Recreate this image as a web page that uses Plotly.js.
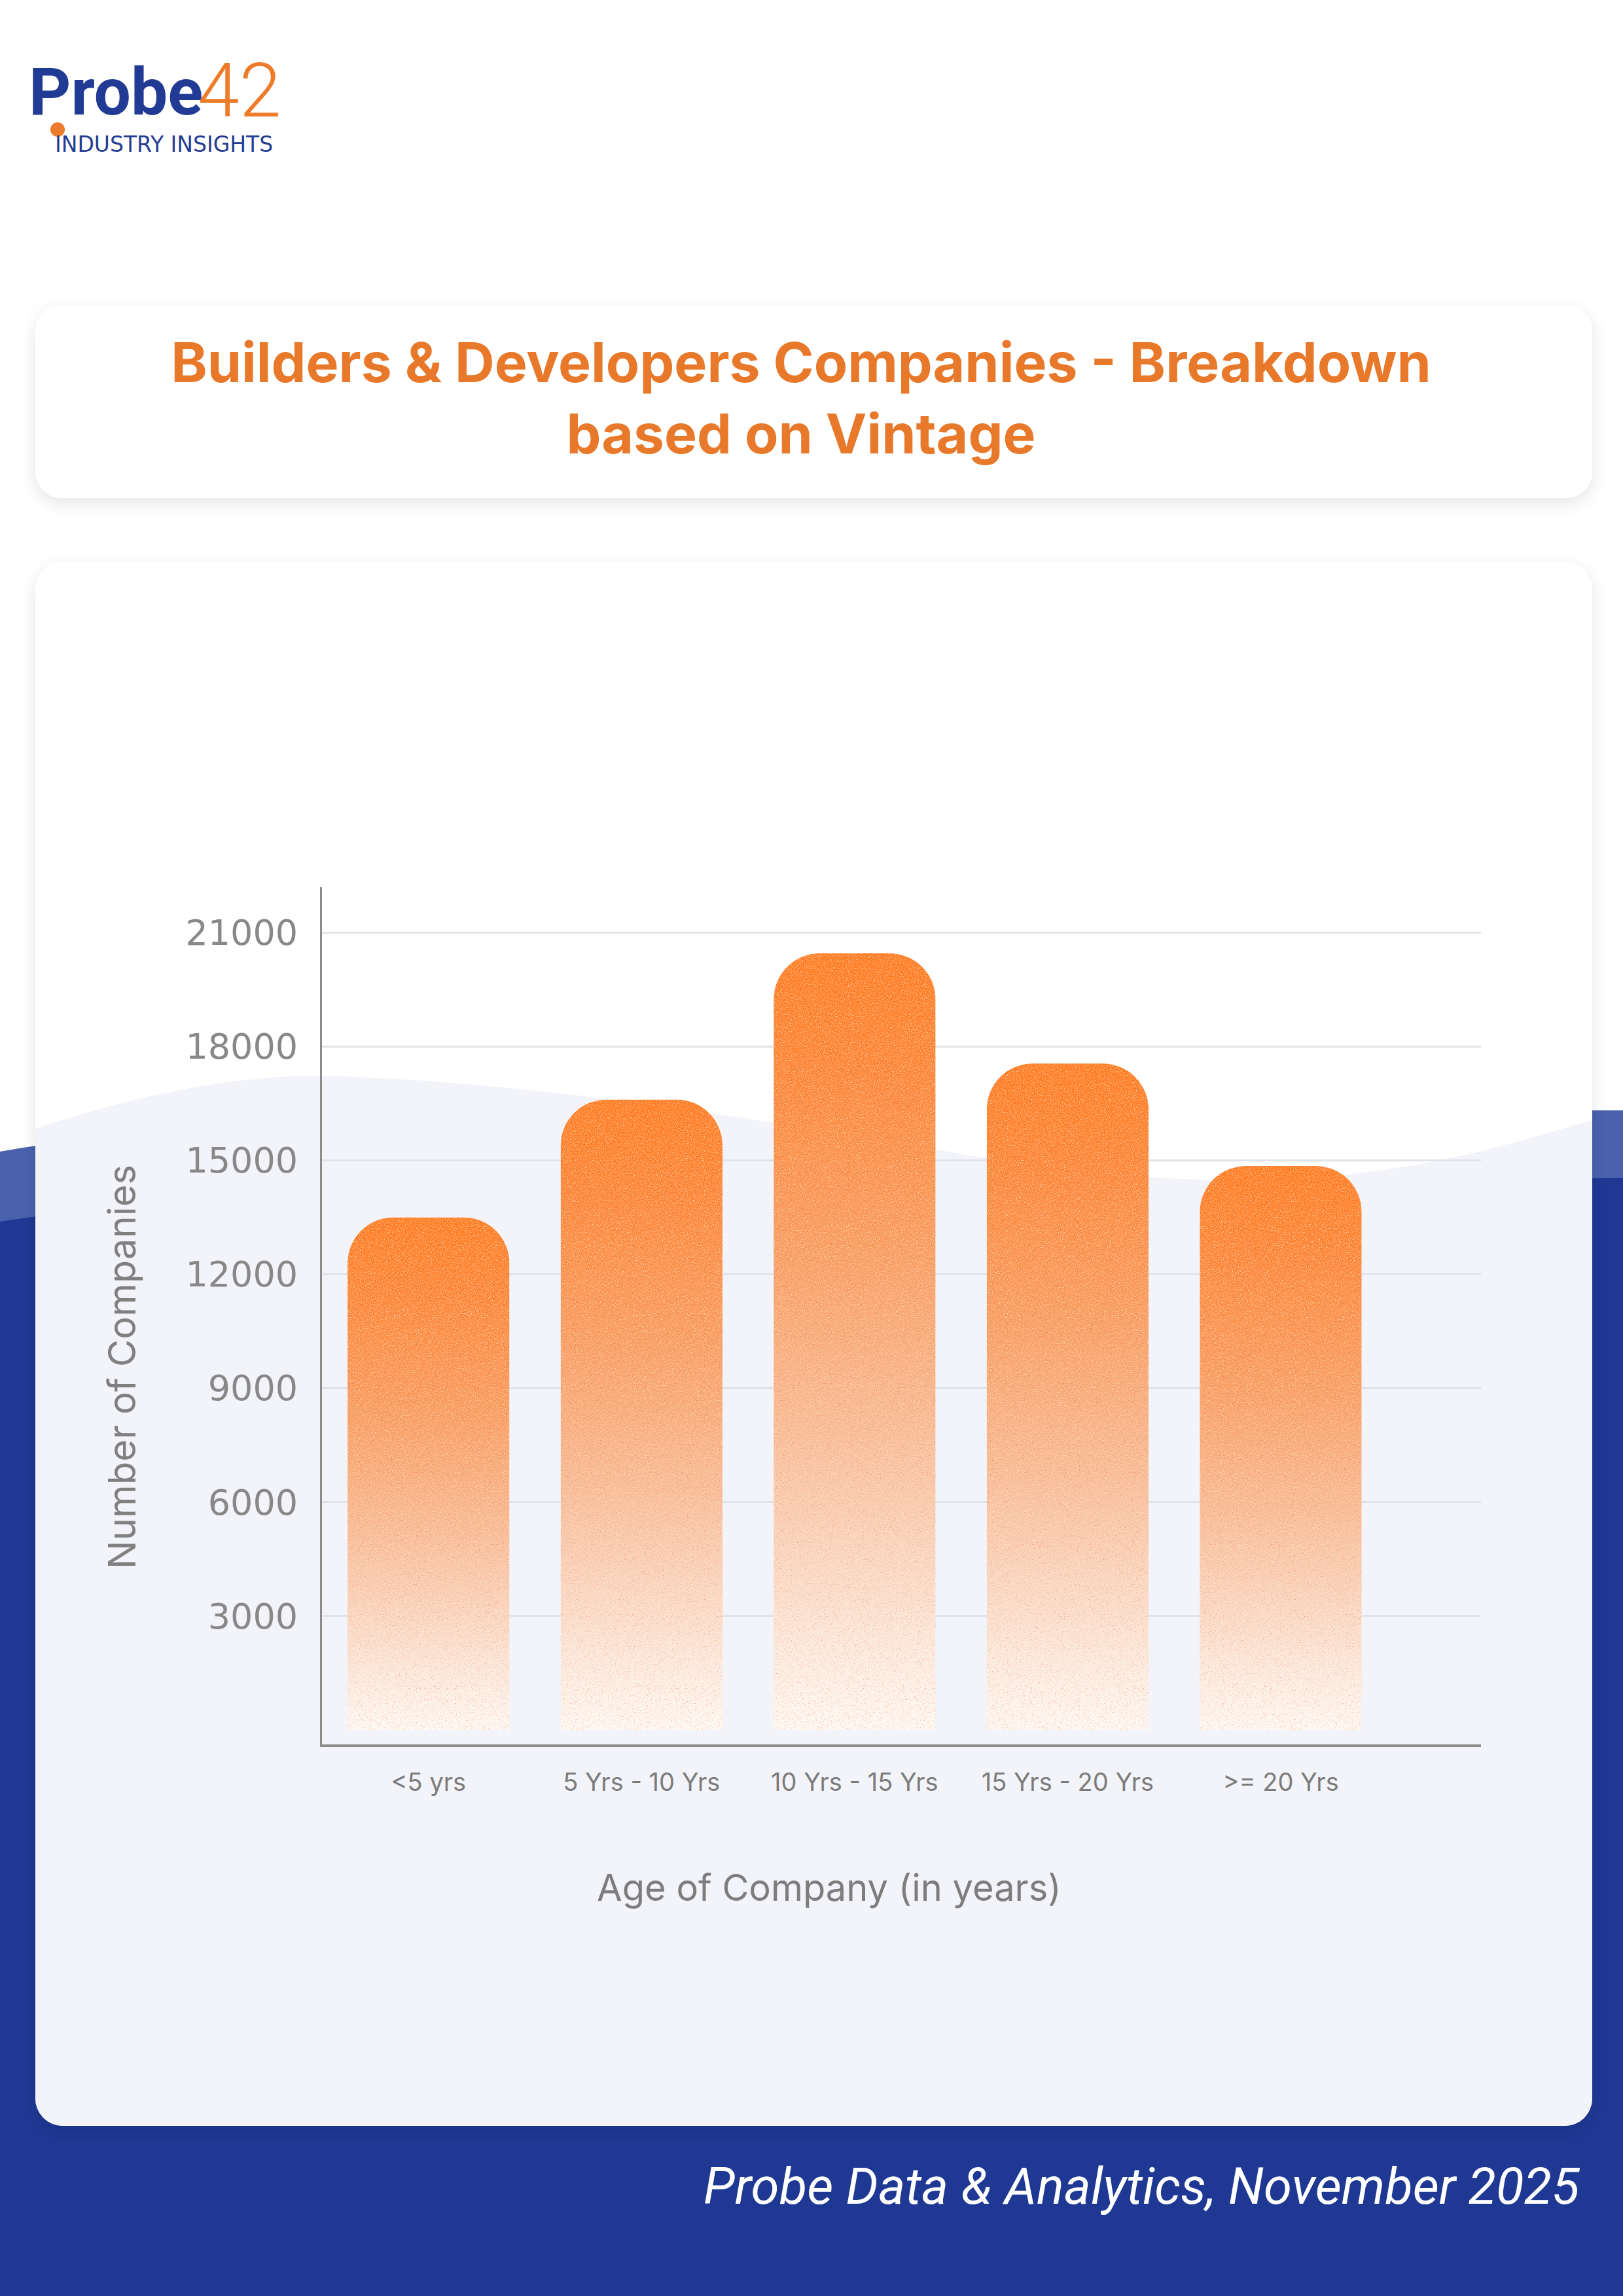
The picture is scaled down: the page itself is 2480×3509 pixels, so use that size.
<!DOCTYPE html>
<html>
<head>
<meta charset="utf-8">
<script src="https://cdn.plot.ly/plotly-3.0.1.min.js"></script>
<style>
  html, body { margin: 0; padding: 0; width: 2480px; height: 3509px; overflow: hidden; background: #ffffff; }
  #bg { position: absolute; left: 0; top: 0; z-index: 0; }
  #chart { position: absolute; left: 0; top: 0; width: 2480px; height: 3509px; z-index: 1; }
</style>
</head>
<body>
<svg id="bg" width="2480" height="3509" viewBox="0 0 2480 3509" xmlns="http://www.w3.org/2000/svg">
  <defs>
    <linearGradient id="barGrad" x1="0" y1="0" x2="0" y2="1">
      <stop offset="0" stop-color="#FF7A1E"/>
      <stop offset="0.15" stop-color="#FC8333"/>
      <stop offset="0.40" stop-color="#F89D62"/>
      <stop offset="0.62" stop-color="#F8BC98"/>
      <stop offset="0.80" stop-color="#FADBC9"/>
      <stop offset="0.92" stop-color="#FCF0E9"/>
      <stop offset="1" stop-color="#FEFBF9"/>
    </linearGradient>
    <filter id="grain" x="0%" y="0%" width="100%" height="100%" color-interpolation-filters="sRGB">
      <feTurbulence type="fractalNoise" baseFrequency="0.7" numOctaves="2" seed="7" result="noise"/>
      <feColorMatrix in="noise" type="matrix" values="0 0 0 0 1  0 0 0 0 0.92  0 0 0 0 0.78  2.2 0 0 0 -1.05" result="light"/>
      <feColorMatrix in="noise" type="matrix" values="0 0 0 0 0.92  0 0 0 0 0.45  0 0 0 0 0.35  -2.2 0 0 0 0.92" result="dark"/>
      <feMerge result="m"><feMergeNode in="SourceGraphic"/><feMergeNode in="light"/><feMergeNode in="dark"/></feMerge>
      <feComposite in="m" in2="SourceGraphic" operator="in"/>
    </filter>
    <filter id="shadow" x="-5%" y="-10%" width="110%" height="130%">
      <feDropShadow dx="0" dy="8" stdDeviation="12" flood-color="#000000" flood-opacity="0.10"/>
    </filter>
    <clipPath id="cardClip">
      <rect x="54" y="859" width="2379" height="2390" rx="42" ry="42"/>
    </clipPath>
  </defs>
  <rect x="0" y="0" width="2480" height="3509" fill="#ffffff"/>
  <path d="M0,1760 C 700,1640 1700,1700 2480,1697 L2480,3509 L0,3509 Z" fill="#4A61AD"/>
  <path d="M0,1867 C 700,1760 1700,1810 2480,1800 L2480,3509 L0,3509 Z" fill="#1E3894"/>
  <circle cx="88" cy="198" r="11" fill="#EE7B2A"/>
  <rect x="54" y="466" width="2379" height="295" rx="40" ry="40" fill="#ffffff" filter="url(#shadow)"/>
  <rect x="54" y="859" width="2379" height="2390" rx="42" ry="42" fill="#ffffff" filter="url(#shadow)"/>
  <g clip-path="url(#cardClip)">
    <path d="M54,1725 C 250,1660 400,1640 520,1645 C 800,1655 1100,1700 1450,1760 C 1700,1805 1900,1815 2100,1790 C 2250,1770 2350,1735 2433,1712 L2433,3260 L54,3260 Z" fill="#F3F4F9"/>
  </g>
</svg>
<div id="chart"></div>
<script>
// ---- data ----
const categories = ['<5 yrs', '5 Yrs - 10 Yrs', '10 Yrs - 15 Yrs', '15 Yrs - 20 Yrs', '>= 20 Yrs'];
const companies = [13500, 16600, 20450, 17550, 14850];
const yTickVals = [3000, 6000, 9000, 12000, 15000, 18000, 21000];
const yTickText = ['3000', '6000', '9000', '12000', '15000', '18000', '21000'];

const chartTitle = 'Builders & Developers Companies - Breakdown<br>based on Vintage';
const xTitle = 'Age of Company (in years)';
const yTitle = 'Number of Companies';
const footerText = 'Probe Data & Analytics, November 2025';

// ---- layout helpers (pixel -> paper) ----
const W = 2480, H = 3509;
const L = 492, R = 2263, T = 1356, B = 2666;
const px = x => (x - L) / (R - L);
const py = y => (B - y) / (B - T);

const trace = {
  type: 'bar',
  x: categories,
  y: companies,
  width: 0.76,
  marker: { color: '#FB8A3C', cornerradius: 70, line: { width: 0 } },
  hoverinfo: 'x+y'
};

const layout = {
  width: W,
  height: H,
  margin: { l: L, r: W - R, t: T, b: H - B, pad: 0 },
  paper_bgcolor: 'rgba(0,0,0,0)',
  plot_bgcolor: 'rgba(0,0,0,0)',
  showlegend: false,
  title: {
    text: chartTitle,
    x: 1224 / W, xref: 'container', xanchor: 'center',
    y: 1 - 584 / H, yref: 'container', yanchor: 'middle',
    font: { family: 'Inter, Roboto, sans-serif', size: 84, weight: 700, color: '#E9792A' }
  },
  xaxis: {
    type: 'category',
    range: [-0.5, 4.94],
    showgrid: false,
    zeroline: false,
    showline: true,
    linecolor: '#8C8C8C',
    linewidth: 4,
    ticks: '',
    ticklabelstandoff: 21,
    tickfont: { family: 'Inter, Roboto, sans-serif', size: 38, color: '#7B7B7B' },
    fixedrange: true
  },
  yaxis: {
    range: [-380, 22190],
    tickmode: 'array',
    tickvals: yTickVals,
    ticktext: yTickText,
    showgrid: true,
    gridcolor: '#E2E3E7',
    gridwidth: 3,
    zeroline: false,
    showline: true,
    linecolor: '#8C8C8C',
    linewidth: 3,
    ticks: '',
    ticklabelstandoff: 23,
    tickfont: { family: 'DejaVu Sans, sans-serif', size: 54, color: '#888888' },
    fixedrange: true
  },
  annotations: [
    { text: 'Probe', xref: 'paper', yref: 'paper', x: px(42), y: py(140), xanchor: 'left', yanchor: 'middle', showarrow: false,
      font: { family: 'Roboto, sans-serif', size: 100, weight: 700, color: '#213B95' } },
    { text: '42', xref: 'paper', yref: 'paper', x: px(300), y: py(138), xanchor: 'left', yanchor: 'middle', showarrow: false,
      font: { family: 'Roboto, sans-serif', size: 115, weight: 300, color: '#EE7B2A' } },
    { text: 'INDUSTRY INSIGHTS', xref: 'paper', yref: 'paper', x: px(82), y: py(220), xanchor: 'left', yanchor: 'middle', showarrow: false,
      font: { family: 'DejaVu Sans, sans-serif', size: 33, color: '#233C91' } },
    { text: yTitle, xref: 'paper', yref: 'paper', x: px(186), y: py(2089), xanchor: 'center', yanchor: 'middle', textangle: -90, showarrow: false,
      font: { family: 'Inter, Roboto, sans-serif', size: 58, color: '#808080' } },
    { text: xTitle, xref: 'paper', yref: 'paper', x: px(1267), y: py(2885), xanchor: 'center', yanchor: 'middle', showarrow: false,
      font: { family: 'Inter, Roboto, sans-serif', size: 56, color: '#7D7D7D' } },
    { text: footerText, xref: 'paper', yref: 'paper', x: px(2417), y: py(3341), xanchor: 'right', yanchor: 'middle', showarrow: false,
      font: { family: 'Roboto, sans-serif', size: 78, style: 'italic', color: '#FFFFFF' } }
  ]
};

Plotly.newPlot('chart', [trace], layout, { displayModeBar: false, staticPlot: true }).then(gd => {
  gd.querySelectorAll('.barlayer .point path').forEach(p => {
    p.style.fill = 'url(#barGrad)';
    p.style.fillOpacity = 1;
    p.setAttribute('filter', 'url(#grain)');
  });
});
</script>
</body>
</html>
